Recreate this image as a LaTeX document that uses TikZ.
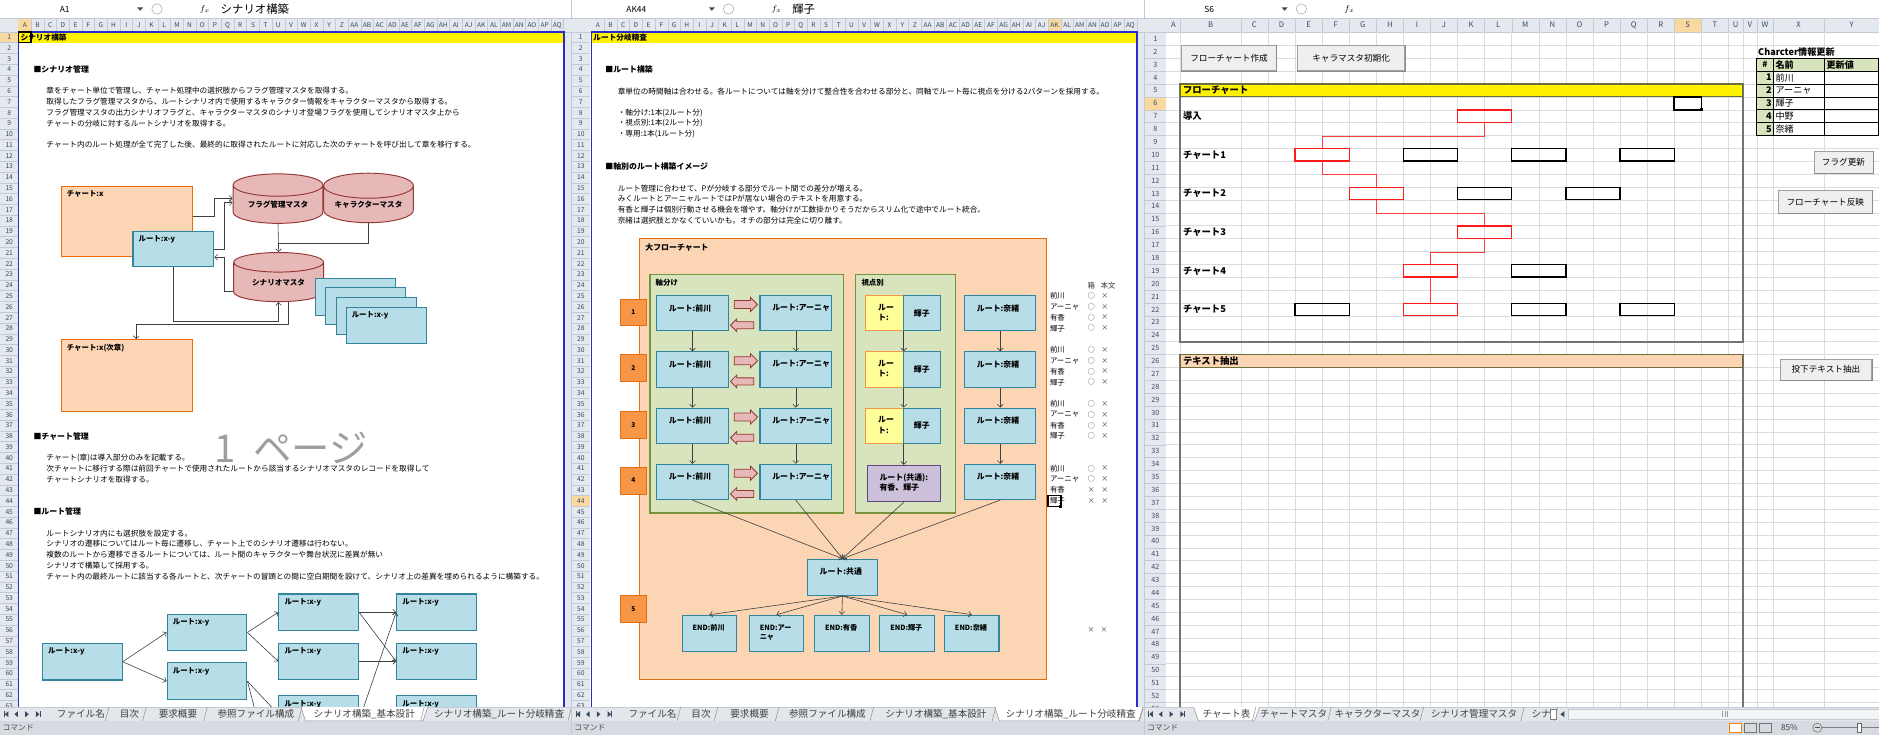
\documentclass[tikz,border=0pt]{standalone}
\usepackage{fontspec}
\setmainfont{Noto Sans CJK JP}
\usetikzlibrary{shapes.geometric,shapes.arrows,arrows.meta}

\definecolor{hdrgray}{HTML}{E4E9EF}
\definecolor{hdrline}{HTML}{C3CAD3}
\definecolor{hdrtext}{HTML}{3B4A5E}
\definecolor{hdrsel}{HTML}{F9D99F}
\definecolor{gridgray}{HTML}{DADCDD}
\definecolor{pagebl}{HTML}{2B2BC8}
\definecolor{chapfill}{HTML}{FCD5B4}
\definecolor{chapline}{HTML}{E46C0A}
\definecolor{routefill}{HTML}{B7DEE8}
\definecolor{routeline}{HTML}{31859C}
\definecolor{mastfill}{HTML}{E6B9B8}
\definecolor{mastline}{HTML}{953735}
\definecolor{axisfill}{HTML}{D7E4BD}
\definecolor{axisline}{HTML}{77933C}
\definecolor{numfill}{HTML}{F79646}
\definecolor{viewfill}{HTML}{FFFF99}
\definecolor{commfill}{HTML}{CCC0DA}
\definecolor{commline}{HTML}{5F497A}
\definecolor{linkgray}{HTML}{404040}
\definecolor{tabgray}{HTML}{E3E7EC}
\definecolor{statgray}{HTML}{D6DBE2}
\definecolor{btnline}{HTML}{A0A0A0}
\definecolor{btnfill}{HTML}{EFEFEF}
\definecolor{flowred}{HTML}{FF1A1A}
\definecolor{barline}{HTML}{6E6E3A}

\newcommand{\sheetcols}{A,B,C,D,E,F,G,H,I,J,K,L,M,N,O,P,Q,R,S,T,U,V,W,X,Y,Z,AA,AB,AC,AD,AE,AF,AG,AH,AI,AJ,AK,AL,AM,AN,AO,AP,AQ}

\tikzset{
  colhdr/.style={inner sep=0, text=hdrtext, font=\fontsize{5.5}{5.5}\selectfont},
  rownum/.style={inner sep=0, text=hdrtext, font=\fontsize{5.6}{6}\selectfont},
  body/.style={anchor=west, inner sep=0, font=\fontsize{6.4}{7}\selectfont},
  heading/.style={anchor=west, inner sep=0, font=\fontsize{6.6}{7}\selectfont\bfseries},
  boxlbl/.style={anchor=north west, inner sep=0, xshift=5, yshift=-4, align=left, font=\fontsize{6.2}{7.6}\selectfont\bfseries},
  rlbl/.style={boxlbl, xshift=5.5, yshift=-3.5, font=\fontsize{6.6}{8.4}\selectfont\bfseries},
  elbl/.style={boxlbl, xshift=4, yshift=-4, font=\fontsize{6}{8}\selectfont\bfseries},
  chapbox/.style={draw=chapline, fill=chapfill, line width=0.9pt, inner sep=0},
  routebox/.style={draw=routeline, fill=routefill, line width=0.9pt, inner sep=0},
  master/.style={cylinder, shape border rotate=90, aspect=0.37, draw=mastline, fill=mastfill, line width=0.8pt, inner sep=0, font=\fontsize{6.3}{7}\selectfont\bfseries},
  link/.style={draw=linkgray, line width=0.5pt, -{Straight Barb[length=2.4pt,width=4.8pt]}},
  barrow/.style={single arrow, single arrow head extend=2.6pt, minimum height=19.5pt, inner xsep=0, inner ysep=3pt, draw=mastline, fill=mastfill, line width=0.7pt},
  numbox/.style={draw=chapline, fill=numfill, line width=0.8pt, minimum width=22pt, minimum height=22.5pt, inner sep=0, font=\fontsize{5.5}{6}\selectfont\bfseries},
  axisbox/.style={draw=axisline, fill=axisfill, line width=0.9pt, inner sep=0},
  tbl/.style={anchor=west, inner sep=0, font=\fontsize{6.2}{7}\selectfont},
  okmark/.style={inner sep=0, text=black!80, font=\fontsize{5.8}{6}\selectfont},
  flbl/.style={anchor=west, inner sep=0, font=\fontsize{7.8}{8}\selectfont\bfseries},
  fbox/.style={draw=black, line width=1.1pt, minimum width=45.2pt, minimum height=10.4pt, inner sep=0},
  fred/.style={fbox, draw=flowred},
  redlink/.style={draw=flowred!85, line width=0.6pt},
  btn/.style={draw=btnline, fill=btnfill, line width=0.6pt, inner sep=0, font=\fontsize{7.2}{7.5}\selectfont},
  tabtxt/.style={inner sep=0, text=black!75, font=\fontsize{8}{8}\selectfont},
  selcell/.style={draw=black, line width=1.3pt},
}

\begin{document}
\begin{tikzpicture}[x=1pt,y=-1pt]
\useasboundingbox (0,0) rectangle (1568,613);
\fill[white] (0,0) rectangle (1568,613);

% chart sheet grid
\foreach \r in {1,...,53}
  \draw[gridgray, line width=0.4pt] (973.3,{27.1+10.75*\r}) -- (1568,{27.1+10.75*\r});

% formula bars
\draw[hdrline, line width=0.4pt] (0,15) -- (1568,15);
\draw[hdrline, line width=0.4pt] (477,0) -- (477,15); \draw[hdrline, line width=0.4pt] (955,0) -- (955,15);
\foreach \px/\cell/\fval [count=\p] in {0/A1/シナリオ構築, 477/AK44/輝子, 955/S6/{}} {
  \begin{scope}[xshift=\px]
    \node[font=\fontsize{7}{7}\selectfont] (nb\p) at (54,7.5) {\cell};
    \fill[hdrtext] (114.5,6.2) -- (119.5,6.2) -- (117,9) -- cycle;
    \draw[btnline, line width=0.4pt] (131,7.5) circle (4.3);
    \node[font=\fontsize{7.5}{7.5}\selectfont] (fx\p) at (171,7.5) {$f_x$};
    \node[anchor=west, inner sep=0, font=\fontsize{9.5}{9.5}\selectfont] (fv\p) at (184,7.5) {\fval};
  \end{scope}
}

% headers
\fill[hdrgray] (0,15.5) rectangle (1568,26.5);
\fill[hdrgray] (0,26.5) rectangle (15.4,590);
\fill[hdrgray] (471.5,15.5) rectangle (492.4,590);
\fill[hdrgray] (949.7,15.5) rectangle (973.3,590);
\fill[hdrsel] (15.4,15.5) rectangle (26,26.5);
\fill[hdrsel] (0,26.5) rectangle (15.4,35.5);
\fill[hdrsel] (874.6,15.5) rectangle (885.2,26.5);
\fill[hdrsel] (477,413.5) rectangle (492.4,422.5);
\fill[hdrsel] (1397.1,15.5) rectangle (1419.7,26.5);
\fill[hdrsel] (955,80.85) rectangle (973.3,91.6);
\draw[hdrline, line width=0.4pt] (0,26.5) -- (1568,26.5);
\draw[hdrline, line width=0.4pt] (477,26.5) -- (477,590);
\draw[hdrline, line width=0.4pt] (955,26.5) -- (955,590);

\foreach \px [count=\p] in {15.4,493.7} {
  \foreach \c [count=\i] in \sheetcols {
    \draw[hdrline, line width=0.3pt] ({\px+10.58*\i},15.5) -- ({\px+10.58*\i},26.5);
    \node[colhdr] (ch\p-\c) at ({\px+10.58*(\i-0.5)},21) {\c};
  }
}
\foreach \px [count=\p] in {0,477} {
  \foreach \r in {1,...,63} {
    \draw[hdrline, line width=0.3pt] (\px,{26.5+9*\r}) -- ({\px+15.4},{26.5+9*\r});
    \node[rownum] (rn\p-\r) at ({\px+7.7},{31+9*(\r-1)}) {\r};
  }
}
\foreach \xl/\xr/\c in {973.3/985/A, 985/1035.5/B, 1035.5/1058.1/C, 1058.1/1080.7/D, 1080.7/1103.3/E, 1103.3/1125.9/F, 1125.9/1148.5/G, 1148.5/1171.1/H, 1171.1/1193.7/I, 1193.7/1216.3/J, 1216.3/1238.9/K, 1238.9/1261.5/L, 1261.5/1284.1/M, 1284.1/1306.7/N, 1306.7/1329.3/O, 1329.3/1351.9/P, 1351.9/1374.5/Q, 1374.5/1397.1/R, 1397.1/1419.7/S, 1419.7/1442.3/T, 1442.3/1454.3/U, 1454.3/1466/V, 1466/1479.6/W, 1479.6/1522.3/X, 1522.3/1568/Y} {
  \draw[hdrline, line width=0.3pt] (\xr,15.5) -- (\xr,27.1);
  \draw[gridgray, line width=0.4pt] (\xr,27.1) -- (\xr,592);
  \node[colhdr, font=\fontsize{6.4}{6.4}\selectfont] (ch3-\c) at ({(\xl+\xr)/2},21) {\c};
}
\foreach \r in {1,...,53} {
  \draw[hdrline, line width=0.3pt] (955,{27.1+10.75*\r}) -- (973.3,{27.1+10.75*\r});
  \node[rownum, font=\fontsize{6}{6}\selectfont] (rn3-\r) at (964.2,{32.5+10.75*(\r-1)}) {\r};
}

% sheet 1: scenario build
\fill[yellow] (15.4,26.5) rectangle (470.8,35.5);
\node[anchor=west, inner sep=0, font=\fontsize{6.4}{7}\selectfont\bfseries] (s1title) at (17,31) {シナリオ構築};
\draw[pagebl, line width=1.4pt] (15.4,590) -- (15.4,26.5) -- (470.8,26.5) -- (470.8,590);
\draw[selcell] (15.4,26.5) rectangle (26,35.5);

\node[heading] (s1h1) at (27.8,58) {■シナリオ管理};
\foreach \rowy/\rowtext [count=\k] in {76/{章をチャート単位で管理し、チャート処理中の選択肢からフラグ管理マスタを取得する。},
  85/{取得したフラグ管理マスタから、ルートシナリオ内で使用するキャラクター情報をキャラクターマスタから取得する。},
  94/{フラグ管理マスタの出力シナリオフラグと、キャラクターマスタのシナリオ登場フラグを使用してシナリオマスタ上から},
  103/{チャートの分岐に対するルートシナリオを取得する。},
  121/{チャート内のルート処理が全て完了した後、最終的に取得されたルートに対応した次のチャートを呼び出して章を移行する。},
  382/{チャート(章)は導入部分のみを記載する。},
  391/{次チャートに移行する際は前回チャートで使用されたルートから該当するシナリオマスタのレコードを取得して},
  400/{チャートシナリオを取得する。},
  445/{ルートシナリオ内にも選択肢を設定する。},
  454/{シナリオの遷移についてはルート毎に遷移し、チャート上でのシナリオ遷移は行わない。},
  463/{複数のルートから遷移できるルートについては、ルート間のキャラクターや舞台状況に差異が無い},
  472/{シナリオで構築して採用する。},
  481/{チャート内の最終ルートに該当する各ルートと、次チャートの冒頭との間に空白期間を設けて、シナリオ上の差異を埋められるように構築する。}}
  \node[body] (s1t\k) at (38.6,\rowy) {\rowtext};
\node[heading] (s1h2) at (27.8,364) {■チャート管理};
\node[heading] (s1h3) at (27.8,427) {■ルート管理};
\node[inner sep=0, text=black!38, font=\fontsize{32}{32}\selectfont] (page) at (243,374) {1\hspace{0.45em}ページ};

\node[chapbox, minimum width=109.5pt, minimum height=58.3pt, label={[boxlbl]north west:{チャート:x}}] (chap) at (105.75,184.65) {};
\node[master, minimum width=75pt, minimum height=41.3pt] (flag) at (232,170.6) {フラグ管理マスタ};
\node[master, minimum width=75pt, minimum height=41.3pt] (chara) at (307.5,170.6) {キャラクターマスタ};
\node[routebox, minimum width=67.4pt, minimum height=29.3pt, label={[boxlbl]north west:{ルート:x-y}}] (route) at (144.7,207.65) {};
\node[master, minimum width=75pt, minimum height=41pt] (scen) at (232.5,235.5) {シナリオマスタ};
\foreach \sx/\sy [count=\k] in {296.5/247.75, 305.1/255.25, 314/263.7}
  \node[routebox, minimum width=67pt, minimum height=30.5pt] (stack\k) at (\sx,\sy) {};
\node[routebox, minimum width=67pt, minimum height=30.5pt, label={[boxlbl]north west:{ルート:x-y}}] (stack4) at (322.3,271.55) {};
\node[chapbox, minimum width=109.5pt, minimum height=60.1pt, label={[boxlbl]north west:{チャート:x(次章)}}] (next) at (105.75,313.45) {};

\coordinate (mj) at (232,202.8);
\coordinate (rb) at (144.7,268.3);
\draw[link] ([yshift=4pt]chap.east) -- ++(17.5,0) |- ([yshift=5pt]flag.west);
\draw[link] (route.east) -- ++(8.4,0) |- ([yshift=1.5pt]flag.west);
\draw[link] (flag.bottom) -- (scen.top);
\draw[draw=linkgray, line width=0.5pt] (chara.bottom) |- (mj);
\draw[link] ([yshift=-7.5pt]scen.west) -- ++(-7.6,0) |- ([yshift=-7pt]route.east);
\draw[link] (route.south) -- (rb) -| (scen.bottom);
\draw[link] ([xshift=8pt]scen.bottom) -- ++(0,18.6) -| ([xshift=8pt]next.north);

% route tree
\foreach \tn/\tx/\ty in {t0/68.7/552.2, t1a/172.75/527.75, t1b/172.75/568.45, t2a/265.95/510.9, t2b/265.95/551.9, t2c/265.95/596, t3a/364.3/510.9, t3b/364.3/551.9, t3c/364.3/596}
  \node[routebox, minimum width=66.5pt, minimum height=30.5pt, label={[boxlbl]north west:{ルート:x-y}}] (\tn) at (\tx,\ty) {};
\foreach \a/\b in {t0/t1a, t0/t1b, t1a/t2a, t1a/t2b, t1b/t2c, t2a/t3a, t2a/t3b, t2b/t3b}
  \draw[link] (\a.east) -- (\b.west);
\coordinate (tlow) at (218,612);
\coordinate (tup) at (296,612);
\draw[draw=linkgray, line width=0.5pt] (t1b.east) -- (tlow);
\draw[link] (tup) -- (t3a.west);

% sheet 2: route branch review
\fill[yellow] (493.7,26.5) rectangle (949,35.5);
\node[anchor=west, inner sep=0, font=\fontsize{6.4}{7}\selectfont\bfseries] (s2title) at (495,31) {ルート分岐精査};
\draw[pagebl, line width=1.4pt] (493.7,590) -- (493.7,26.5) -- (949,26.5) -- (949,590);

\node[heading] (s2h1) at (505,58) {■ルート構築};
\node[heading] (s2h2) at (505,139) {■軸別のルート構築イメージ};
\foreach \rowy/\rowtext [count=\k] in {76/{章単位の時間軸は合わせる。各ルートについては軸を分けて整合性を合わせる部分と、同軸でルート毎に視点を分ける2パターンを採用する。},
  94/{・軸分け:1本(2ルート分)}, 103/{・視点別:1本(2ルート分)}, 112/{・専用:1本(1ルート分)},
  157/{ルート管理に合わせて、Pが分岐する部分でルート間での差分が増える。},
  166/{みくルートとアーニャルートではPが居ない場合のテキストを用意する。},
  175/{有香と輝子は個別行動させる機会を増やす。軸分けが工数掛かりそうだからスリム化で途中でルート統合。},
  184/{奈緒は選択肢とかなくていいかも。オチの部分は完全に切り離す。}}
  \node[body] (s2t\k) at (515.3,\rowy) {\rowtext};

\node[chapbox, minimum width=339.6pt, minimum height=367.6pt, label={[boxlbl, font=\fontsize{6.6}{7}\selectfont\bfseries]north west:{大フローチャート}}] (big) at (703.6,383.2) {};
\node[axisbox, minimum width=161.8pt, minimum height=198.7pt, label={[boxlbl]north west:{軸分け}}] (axis) at (623.3,328.75) {};
\node[axisbox, minimum width=83.4pt, minimum height=198.7pt, label={[boxlbl]north west:{視点別}}] (view) at (755.9,328.75) {};
\foreach \ny [count=\k] in {260.75, 307.4, 354.9, 401, 508.5}
  \node[numbox] (num\k) at (528.5,\ny) {\k};

\foreach \ry [count=\k] in {261.4, 308.3, 355.3, 402.2} {
  \node[routebox, minimum width=59.8pt, minimum height=29.4pt, label={[rlbl]north west:{ルート:前川}}] (mae\k) at (577.9,\ry) {};
  \node[routebox, minimum width=59.8pt, minimum height=29.4pt, label={[rlbl]north west:{ルート:アーニャ}}] (anya\k) at (664.1,\ry) {};
  \node[barrow] (ra\k) at (620.75,{\ry-7.3}) {};
  \node[barrow, shape border rotate=180, inner ysep=2.6pt, single arrow head extend=2.3pt] (la\k) at (620.75,{\ry+10}) {};
  \node[routebox, minimum width=59.3pt, minimum height=29.4pt, label={[rlbl]north west:{ルート:奈緒}}] (nao\k) at (834.65,\ry) {};
}
\foreach \ry [count=\k] in {261.4, 308.3, 355.3} {
  \node[draw=numfill, fill=viewfill, line width=0.9pt, minimum width=31.1pt, minimum height=29.4pt, inner sep=0, label={[rlbl]north west:{ルー\\ト:}}] (vy\k) at (738.15,\ry) {};
  \node[routebox, minimum width=31.1pt, minimum height=29.4pt, font=\fontsize{6.6}{7}\selectfont\bfseries] (vb\k) at (769.25,\ry) {輝子};
}
\node[draw=commline, fill=commfill, line width=0.9pt, minimum width=61.1pt, minimum height=30.3pt, inner sep=0, label={[rlbl]north west:{ルート(共通):\\有香、輝子}}] (comm) at (754.25,403.45) {};

\foreach \k [count=\j from 2] in {1,2,3} {
  \draw[link] (mae\k.south) -- (mae\j.north);
  \draw[link] (anya\k.south) -- (anya\j.north);
  \draw[link] (nao\k.south) -- (nao\j.north);
}
\draw[link] (vy1.south east) -- (vy2.north east);
\draw[link] (vy2.south east) -- (vy3.north east);
\draw[link] (vy3.south east) -- (vy3.south east |- comm.north);

\node[routebox, minimum width=58.6pt, minimum height=30.3pt, label={[rlbl]north west:{ルート:共通}}] (join) at (703,481.75) {};
\foreach \s in {mae4, anya4, comm, nao4}
  \draw[link] (\s.south) -- (join.north);
\foreach \ex/\et [count=\k] in {592/{END:前川}, 648/{END:アー\\ニャ}, 702.5/{END:有香}, 756.9/{END:輝子}, 810.9/{END:奈緒}} {
  \node[routebox, minimum width=45.5pt, minimum height=30.2pt, label={[elbl]north west:{\et}}] (end\k) at (\ex,528.5) {};
  \draw[link] (join.south) -- (end\k.north);
}

% flag table beside the chart
\node[okmark, font=\fontsize{6.2}{7}\selectfont] (hbox) at (910.7,238) {箱};
\node[okmark, font=\fontsize{6.2}{7}\selectfont] (htext) at (924.6,238) {本文};
\foreach \gy [count=\g] in {247,292,337} {
  \foreach \nm [count=\k] in {前川,アーニャ,有香,輝子} {
    \node[tbl] (nm\g-\k) at (876,{\gy+9*(\k-1)}) {\nm};
    \node[okmark] (bx\g-\k) at (910.7,{\gy+9*(\k-1)}) {○};
    \node[okmark] (tx\g-\k) at (922,{\gy+9*(\k-1)}) {×};
  }
}
\foreach \nm/\mb [count=\k] in {前川/○, アーニャ/○, 有香/×, 輝子/×} {
  \node[tbl] (nm4-\k) at (876,{391+9*(\k-1)}) {\nm};
  \node[okmark] (bx4-\k) at (910.7,{391+9*(\k-1)}) {\mb};
  \node[okmark] (tx4-\k) at (922,{391+9*(\k-1)}) {×};
}
\node[okmark] (bx5) at (910.5,526) {×};
\node[okmark] (tx5) at (921.3,526) {×};
\draw[selcell] (874.6,413.5) rectangle (885.2,422.5);
\fill (883.8,421.1) rectangle (886.6,423.9);

% sheet 3: chart table
\node[btn, minimum width=79.2pt, minimum height=21pt] (mkflow) at (1025.6,48.5) {フローチャート作成};
\node[btn, minimum width=89.6pt, minimum height=21pt] (initch) at (1127.5,48.5) {キャラマスタ初期化};
\node[btn, minimum width=49.2pt, minimum height=18.1pt] (flagup) at (1538.4,135.5) {フラグ更新};
\node[btn, minimum width=77.7pt, minimum height=18.9pt] (flowref) at (1523.2,168.5) {フローチャート反映};
\node[btn, minimum width=76.6pt, minimum height=17.2pt] (txtout) at (1523.7,308.4) {投下テキスト抽出};
\foreach \b in {mkflow, initch, flagup, flowref, txtout}
  \draw[black!45, line width=0.6pt] (\b.north east) -- (\b.south east) -- (\b.south west);

\draw[black!55, line width=1.5pt] (985,70.1) rectangle (1454.3,285.1);
\draw[fill=yellow, draw=barline, line width=1pt] (985,70.1) rectangle (1454.3,80.85);
\node[flbl] (flowttl) at (987,75.5) {フローチャート};
\draw[black!55, line width=1.5pt] (985,640) -- (985,295.85) -- (1454.3,295.85) -- (1454.3,640);
\draw[fill=chapfill, draw=barline, line width=1pt] (985,295.85) rectangle (1454.3,306.6);
\node[flbl] (txtttl) at (987,301.25) {テキスト抽出};
\foreach \lt/\lr [count=\k] in {導入/97, チャート1/129.25, チャート2/161.5, チャート3/193.75, チャート4/226, チャート5/258.25}
  \node[flbl] (rowlbl\k) at (987,\lr) {\lt};

\node[fred] (c0) at (1238.9,97) {};
\node[fred] (c1a) at (1103.3,129.25) {};
\foreach \bx [count=\k] in {1193.7,1284.1,1374.5} \node[fbox] (c1x\k) at (\bx,129.25) {};
\node[fred] (c2a) at (1148.5,161.5) {};
\foreach \bx [count=\k] in {1238.9,1329.3} \node[fbox] (c2x\k) at (\bx,161.5) {};
\node[fred] (c3a) at (1238.9,193.75) {};
\node[fred] (c4a) at (1193.7,226) {};
\node[fbox] (c4x1) at (1284.1,226) {};
\node[fbox] (c5a) at (1103.3,258.25) {};
\node[fred] (c5b) at (1193.7,258.25) {};
\foreach \bx [count=\k] in {1284.1,1374.5} \node[fbox] (c5x\k) at (\bx,258.25) {};
\draw[redlink] (c0.south) -- ++(0,10.75) -| (c1a.north);
\draw[redlink] (c1a.south) -- ++(0,10.75) -| (c2a.north);
\draw[redlink] (c2a.south) -- ++(0,10.75) -| (c3a.north);
\draw[redlink] (c3a.south) -- ++(0,10.75) -| (c4a.north);
\draw[redlink] (c4a.south) -- (c5b.north);

\draw[selcell] (1397.1,80.85) rectangle (1419.7,91.6);
\fill (1418.3,90.2) rectangle (1421.1,93);

\node[anchor=west, inner sep=0, font=\fontsize{7.6}{8}\selectfont\bfseries] (ctitle) at (1467,43.25) {Charcter情報更新};
\fill[axisfill] (1466,48.6) rectangle (1568,59.35);
\fill[axisfill] (1466,59.35) rectangle (1479.6,113.1);
\foreach \k in {1,...,5} \draw[black, line width=0.5pt] (1466,{48.6+10.75*\k}) -- (1568,{48.6+10.75*\k});
\draw[black, line width=0.5pt] (1479.6,48.6) -- (1479.6,113.1);
\draw[black, line width=0.5pt] (1522.3,48.6) -- (1522.3,113.1);
\draw[black, line width=1.1pt] (1466,48.6) rectangle (1568,113.1);
\node[inner sep=0, font=\fontsize{7}{7}\selectfont\bfseries] (th1) at (1472.8,54) {\#};
\node[tbl, font=\fontsize{7.6}{8}\selectfont\bfseries] (th2) at (1481.5,54) {名前};
\node[tbl, font=\fontsize{7.6}{8}\selectfont\bfseries] (th3) at (1524,54) {更新値};
\foreach \nm [count=\k] in {前川,アーニャ,輝子,中野,奈緒} {
  \node[anchor=east, inner sep=0, font=\fontsize{7.6}{8}\selectfont\bfseries] (cn\k) at (1478.6,{54+10.75*\k}) {\k};
  \node[tbl, font=\fontsize{7.6}{8}\selectfont] (cm\k) at (1481.5,{54+10.75*\k}) {\nm};
}

% sheet tabs and status bars
\fill[statgray] (0,601.5) rectangle (1568,613);
\fill[tabgray] (0,590) rectangle (1568,601.5);
\draw[hdrline, line width=0.4pt] (0,590) -- (1568,590);
\foreach \px/\al/\ar [count=\p] in {0/254/354, 477/356/474} {
  \begin{scope}[xshift=\px]
    \filldraw[fill=white, draw=black!45, line width=0.4pt] ({\al-3},590) -- ({\al+1},601.5) -- ({\ar-1},601.5) -- ({\ar+3},590);
    \foreach \tl/\tr/\tname [count=\k] in {44/91/ファイル名, 94/122/目次, 124/173/要求概要, 175/252/参照ファイル構成, 254/354/{シナリオ構築\_基本設計}, 356/477/{シナリオ構築\_ルート分岐精査}} {
      \node[tabtxt] (tab\p-\k) at ({(\tl+\tr)/2},596) {\tname};
      \draw[black!45, line width=0.4pt] ({\tr-3},601.5) -- (\tr,590);
    }
  \end{scope}
}
\filldraw[fill=white, draw=black!45, line width=0.4pt] (996,590) -- (1000,601.5) -- (1047,601.5) -- (1051,590);
\foreach \tl/\tr/\tname [count=\k] in {999/1048/チャート表, 1048/1111/チャートマスタ, 1111/1188/キャラクターマスタ, 1188/1272/シナリオ管理マスタ, 1272/1300/シナ} {
  \node[tabtxt] (tab3-\k) at ({(\tl+\tr)/2},596) {\tname};
  \draw[black!45, line width=0.4pt] ({\tr-3},601.5) -- (\tr,590);
}
\fill[white] (1294,591.5) rectangle (1299,600.5);
\draw[black!50, line width=0.4pt] (1294,591.5) rectangle (1299,600.5);
\fill[hdrtext] (1302,596) -- (1305.5,593.5) -- (1305.5,598.5) -- cycle;
\filldraw[fill=white!60!tabgray, draw=hdrline, line width=0.4pt] (1309,591.5) rectangle (1568,600.5);
\foreach \gx in {1437.5,1439.5,1441.5} \draw[black!40, line width=0.4pt] (\gx,593.5) -- (\gx,598.5);
\foreach \px in {0,477,955} {
  \begin{scope}[xshift=\px]
    \draw[hdrtext, line width=0.5pt] (3.5,593.5) -- (3.5,598.5);
    \fill[hdrtext] (4,596) -- (7,593.5) -- (7,598.5) -- cycle;
    \fill[hdrtext] (12,596) -- (15,593.5) -- (15,598.5) -- cycle;
    \fill[hdrtext] (24,596) -- (21,593.5) -- (21,598.5) -- cycle;
    \fill[hdrtext] (33,596) -- (30,593.5) -- (30,598.5) -- cycle;
    \draw[hdrtext, line width=0.5pt] (33.5,593.5) -- (33.5,598.5);
  \end{scope}
}
\draw[hdrline, line width=0.5pt] (477,590) -- (477,613);
\draw[hdrline, line width=0.5pt] (955,590) -- (955,613);
\foreach \px [count=\p] in {2,479,957}
  \node[anchor=west, inner sep=0, text=black!70, font=\fontsize{6.5}{7}\selectfont] (cmd\p) at (\px,607.3) {コマンド};
\draw[draw=orange, fill=white, line width=0.5pt] (1443,603.5) rectangle (1453,611.2);
\draw[draw=black!55, line width=0.5pt] (1455.5,603.5) rectangle (1465.5,611.2);
\draw[draw=black!55, line width=0.5pt] (1468,603.5) rectangle (1478,611.2);
\node[anchor=west, inner sep=0, text=black!75, font=\fontsize{6.8}{7}\selectfont] (zoompct) at (1486,607.3) {85\%};
\draw[black!55, line width=0.5pt] (1516.5,607.3) circle (3.8);
\draw[black!70, line width=0.7pt] (1514.6,607.3) -- (1518.4,607.3);
\draw[black!50, line width=0.5pt] (1520.3,607.3) -- (1568,607.3);
\filldraw[fill=white, draw=black!60, line width=0.5pt] (1550,603.3) rectangle (1553.4,611.3);
\end{tikzpicture}
\end{document}
